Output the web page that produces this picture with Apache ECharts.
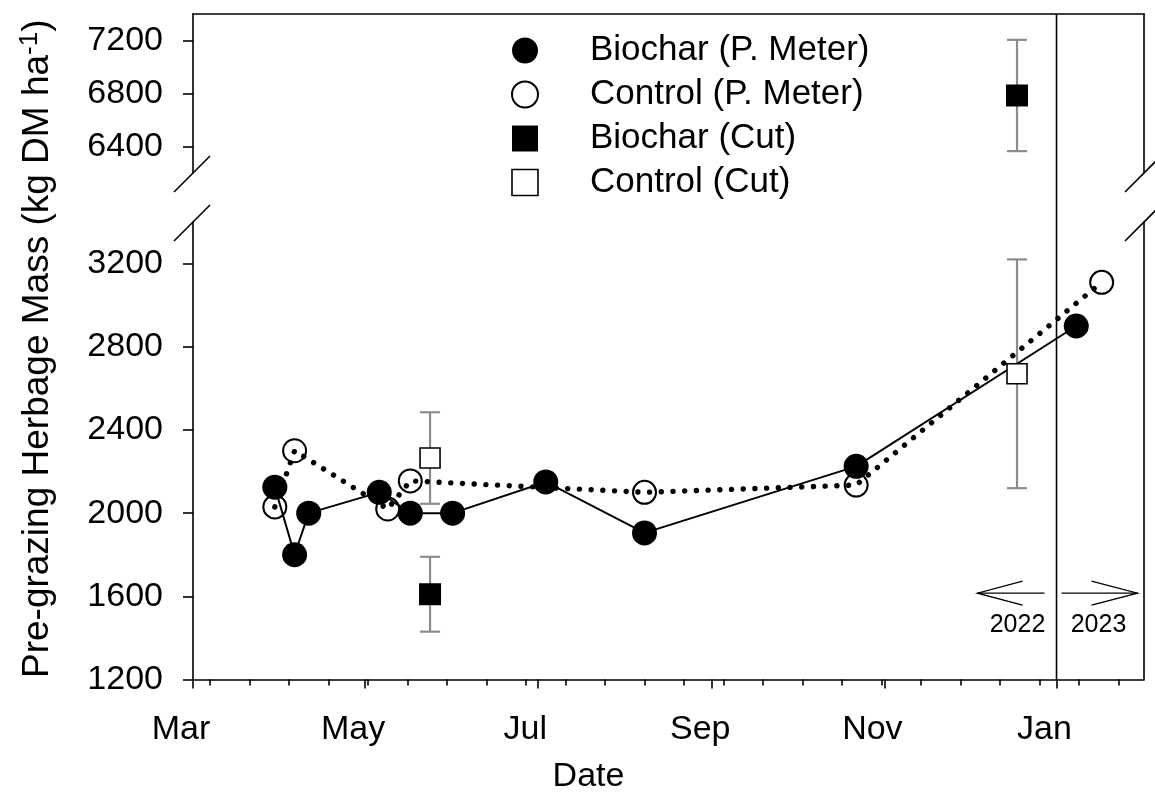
<!DOCTYPE html>
<html><head><meta charset="utf-8">
<script src="https://cdn.jsdelivr.net/npm/echarts@6/dist/echarts.min.js"></script>
<style>html,body{margin:0;padding:0;background:#fff}#c{width:1155px;height:799px}</style>
</head><body><div id="c"></div>
<script>
// ---- data ----
const pmBiocharDates = ['2022-03-30','2022-04-06','2022-04-11','2022-05-06','2022-05-17','2022-06-01','2022-07-04','2022-08-08','2022-10-22','2023-01-08'];
const pmBiocharValues = [2125, 1800, 2000, 2100, 2000, 2000, 2150, 1905, 2225, 2900];
const pmControlDates = ['2022-03-30','2022-04-06','2022-05-09','2022-05-17','2022-08-08','2022-10-22','2023-01-17'];
const pmControlValues = [2030, 2300, 2020, 2155, 2100, 2135, 3110];
const cutDates = ['2022-05-24','2022-12-18'];
const cutBiocharValues = [1610, 6785];
const cutBiocharErr = [180, 420];
const cutControlValues = [2265, 2670];
const cutControlErr = [220, 550];
const majorTickDates = ['2022-03-01','2022-05-01','2022-07-01','2022-09-01','2022-11-01','2023-01-01'];
const majorTickLabels = ['Mar','May','Jul','Sep','Nov','Jan'];
const lowerTicks = [1200, 1600, 2000, 2400, 2800, 3200];
const upperTicks = [6400, 6800, 7200];
const yearLabels = ['2022', '2023'];
const seriesNames = ['Biochar (P. Meter)', 'Control (P. Meter)', 'Biochar (Cut)', 'Control (Cut)'];
const xRange = ['2022-03-01', '2023-02-01'];
const lowerRange = [1200, 3400];
const upperRange = [6200, 7400];
const yearBoundary = '2023-01-01';

// ---- helpers ----
const t = s => { const p = s.split('-').map(Number); return new Date(p[0], p[1] - 1, p[2]).getTime(); };
const FONT = 'Liberation Sans';
const majorT = majorTickDates.map(t);
const minorT = [];
for (let i = 0; ; i++) { const v = new Date(2022, 2, 7 + 14 * i).getTime(); if (v > t(xRange[1])) break; minorT.push(v); }

const pairs = (ds, vs) => ds.map((d, i) => [t(d), vs[i]]);
const isUpper = v => v > lowerRange[1];
const cutB = cutDates.map((d, i) => [t(d), cutBiocharValues[i], cutBiocharErr[i]]);
const cutC = cutDates.map((d, i) => [t(d), cutControlValues[i], cutControlErr[i]]);
const cutBLow = cutB.filter(p => !isUpper(p[1])), cutBUp = cutB.filter(p => isUpper(p[1]));
const cutCLow = cutC.filter(p => !isUpper(p[1]));

const axisLineStyle = { color: '#000', width: 1.6 };
const errRender = function (params, api) {
  const x = api.value(0), y = api.value(1), e = api.value(2);
  const a = api.coord([x, y + e]), b = api.coord([x, y - e]);
  const st = { stroke: '#8c8c8c', lineWidth: 2.2 };
  const cap = 10;
  return { type: 'group', children: [
    { type: 'line', shape: { x1: a[0], y1: a[1], x2: b[0], y2: b[1] }, style: st },
    { type: 'line', shape: { x1: a[0] - cap, y1: a[1], x2: a[0] + cap, y2: a[1] }, style: st },
    { type: 'line', shape: { x1: b[0] - cap, y1: b[1], x2: b[0] + cap, y2: b[1] }, style: st }
  ]};
};

const openStyle = { color: '#fff', borderColor: '#000', borderWidth: 2, opacity: 1 };
const fillStyle = { color: '#000', borderColor: '#000', borderWidth: 0, opacity: 1 };
const openSquare = { color: '#fff', borderColor: '#000', borderWidth: 1.6, opacity: 1 };
const tickLabel = { fontSize: 34, fontFamily: FONT, color: '#000' };

const chart = echarts.init(document.getElementById('c'), null, { renderer: 'canvas' });
const option = {
  animation: false,
  backgroundColor: '#fff',
  textStyle: { fontFamily: FONT },
  grid: [
    { left: 193, right: 11, top: 222, height: 457.5 },
    { left: 193, right: 11, top: 14, height: 159 }
  ],
  xAxis: [
    { gridIndex: 0, type: 'value', min: t(xRange[0]), max: t(xRange[1]), position: 'bottom',
      axisLine: { lineStyle: axisLineStyle },
      axisTick: { customValues: majorT, length: 9, lineStyle: axisLineStyle },
      axisLabel: Object.assign({ customValues: majorT, margin: 33, padding: [0, 24, 0, 0], hideOverlap: false,
        formatter: v => { const i = majorT.indexOf(v); return i >= 0 ? majorTickLabels[i] : ''; } }, tickLabel),
      splitLine: { show: false },
      name: 'Date', nameLocation: 'middle', nameGap: 80,
      nameTextStyle: { fontSize: 34, fontFamily: FONT, color: '#000', padding: [0, 160, 0, 0] } },
    { gridIndex: 0, type: 'value', min: t(xRange[0]), max: t(xRange[1]), position: 'bottom',
      axisLine: { show: false },
      axisTick: { customValues: minorT, length: 6, lineStyle: axisLineStyle },
      axisLabel: { show: false }, splitLine: { show: false } },
    { gridIndex: 1, type: 'value', min: t(xRange[0]), max: t(xRange[1]), position: 'top',
      axisLine: { lineStyle: axisLineStyle }, axisTick: { show: false }, axisLabel: { show: false },
      splitLine: { show: false } }
  ],
  yAxis: [
    { gridIndex: 0, type: 'value', min: lowerRange[0], max: lowerRange[1], position: 'left',
      axisLine: { show: true, lineStyle: axisLineStyle },
      axisTick: { show: true, customValues: lowerTicks, length: 10, lineStyle: axisLineStyle },
      axisLabel: Object.assign({ customValues: lowerTicks, margin: 30, formatter: v => String(v) }, tickLabel),
      splitLine: { show: false } },
    { gridIndex: 0, type: 'value', min: lowerRange[0], max: lowerRange[1], position: 'right',
      axisLine: { show: true, lineStyle: axisLineStyle }, axisTick: { show: false }, axisLabel: { show: false },
      splitLine: { show: false } },
    { gridIndex: 1, type: 'value', min: upperRange[0], max: upperRange[1], position: 'left',
      axisLine: { show: true, lineStyle: axisLineStyle },
      axisTick: { show: true, customValues: upperTicks, length: 10, lineStyle: axisLineStyle },
      axisLabel: Object.assign({ customValues: upperTicks, margin: 30, formatter: v => String(v) }, tickLabel),
      splitLine: { show: false } },
    { gridIndex: 1, type: 'value', min: upperRange[0], max: upperRange[1], position: 'right',
      axisLine: { show: true, lineStyle: axisLineStyle }, axisTick: { show: false }, axisLabel: { show: false },
      splitLine: { show: false } }
  ],
  legend: {
    orient: 'vertical', left: 511, top: 33, padding: 0, itemGap: 9,
    itemWidth: 120, itemHeight: 26, selectedMode: false,
    textStyle: { fontSize: 35, fontFamily: FONT, color: '#000', lineHeight: 35 },
    data: [
      { name: seriesNames[0], icon: 'circle', itemStyle: fillStyle },
      { name: seriesNames[1], icon: 'circle', itemStyle: openStyle },
      { name: seriesNames[2], icon: 'path://M0 0H10V10H0Z', itemStyle: fillStyle },
      { name: seriesNames[3], icon: 'path://M0 0H10V10H0Z', itemStyle: openSquare }
    ]
  },
  series: [
    { type: 'custom', name: 'ctrl-cut-err', xAxisIndex: 0, yAxisIndex: 0, renderItem: errRender, data: cutCLow, z: 1 },
    { type: 'custom', name: 'bio-cut-err', xAxisIndex: 0, yAxisIndex: 0, renderItem: errRender, data: cutBLow, z: 1 },
    { type: 'custom', name: 'bio-cut-err-up', xAxisIndex: 2, yAxisIndex: 2, renderItem: errRender, data: cutBUp, z: 1 },
    { type: 'scatter', name: seriesNames[1], xAxisIndex: 0, yAxisIndex: 0, symbol: 'circle', symbolSize: 23,
      itemStyle: openStyle, data: pairs(pmControlDates, pmControlValues), z: 2 },
    { type: 'line', name: 'control-trend', xAxisIndex: 0, yAxisIndex: 0, symbol: 'none',
      lineStyle: { color: '#000', width: 5.4, type: [0.01, 11.7], cap: 'round' },
      data: pairs(pmControlDates, pmControlValues), z: 3 },
    { type: 'line', name: seriesNames[0], xAxisIndex: 0, yAxisIndex: 0, symbol: 'circle', symbolSize: 25,
      itemStyle: fillStyle, lineStyle: { color: '#000', width: 2 },
      data: pairs(pmBiocharDates, pmBiocharValues), z: 4 },
    { type: 'scatter', name: seriesNames[2], xAxisIndex: 0, yAxisIndex: 0, symbol: 'rect', symbolSize: 22,
      itemStyle: fillStyle, data: cutBLow.map(p => [p[0], p[1]]), z: 5 },
    { type: 'scatter', name: seriesNames[2], xAxisIndex: 2, yAxisIndex: 2, symbol: 'rect', symbolSize: 22,
      itemStyle: fillStyle, data: cutBUp.map(p => [p[0], p[1]]), z: 5 },
    { type: 'scatter', name: seriesNames[3], xAxisIndex: 0, yAxisIndex: 0, symbol: 'rect', symbolSize: 20,
      itemStyle: openSquare, data: cutCLow.map(p => [p[0], p[1]]), z: 5 }
  ]
};
chart.setOption(option);

// ---- decorations positioned through the axes ----
const xPix = v => chart.convertToPixel({ xAxisIndex: 0 }, v);
const yLow = v => chart.convertToPixel({ yAxisIndex: 0 }, v);
const yUp = v => chart.convertToPixel({ yAxisIndex: 2 }, v);
const leftX = xPix(t(xRange[0])), rightX = xPix(t(xRange[1]));
const topY = yUp(upperRange[1]), upBotY = yUp(upperRange[0]);
const lowTopY = yLow(lowerRange[1]), botY = yLow(lowerRange[0]);
const janX = xPix(t(yearBoundary));
const ls = { stroke: '#000', lineWidth: 1.6 };
const brk = (x, y) => ({ type: 'line', shape: { x1: x - 19, y1: y + 19, x2: x + 17, y2: y - 17 }, style: ls });
const arrowY = yLow(1615);
const g = [
  { type: 'line', shape: { x1: janX, y1: topY, x2: janX, y2: botY }, style: ls },
  brk(leftX, upBotY), brk(leftX, lowTopY), brk(rightX, upBotY), brk(rightX, lowTopY),
  { type: 'line', shape: { x1: janX - 79, y1: arrowY, x2: janX - 12, y2: arrowY }, style: { stroke: '#000', lineWidth: 1.3 } },
  { type: 'polyline', shape: { points: [[janX - 34, arrowY - 12], [janX - 79, arrowY], [janX - 34, arrowY + 12]] }, style: { stroke: '#000', lineWidth: 1.3, fill: null } },
  { type: 'line', shape: { x1: janX + 5, y1: arrowY, x2: janX + 81, y2: arrowY }, style: { stroke: '#000', lineWidth: 1.3 } },
  { type: 'polyline', shape: { points: [[janX + 35, arrowY - 12], [janX + 81, arrowY], [janX + 35, arrowY + 12]] }, style: { stroke: '#000', lineWidth: 1.3, fill: null } },
  { type: 'text', x: janX - 39, y: arrowY + 32, style: { text: yearLabels[0], fontSize: 25, fontFamily: FONT, fill: '#000', align: 'center', verticalAlign: 'middle' } },
  { type: 'text', x: janX + 42, y: arrowY + 32, style: { text: yearLabels[1], fontSize: 25, fontFamily: FONT, fill: '#000', align: 'center', verticalAlign: 'middle' } },
  { type: 'text', x: 38, y: (topY + botY) / 2 + 2, rotation: Math.PI / 2,
    style: { text: '{a|Pre-grazing Herbage Mass (kg DM ha}{s|-1}{a|)}', align: 'center', verticalAlign: 'middle',
      rich: { a: { fontSize: 37, fontFamily: FONT, fill: '#000', lineHeight: 42 },
              s: { fontSize: 26, fontFamily: FONT, fill: '#000', verticalAlign: 'top', lineHeight: 42 } } } }
];
chart.setOption({ graphic: g });
</script></body></html>
